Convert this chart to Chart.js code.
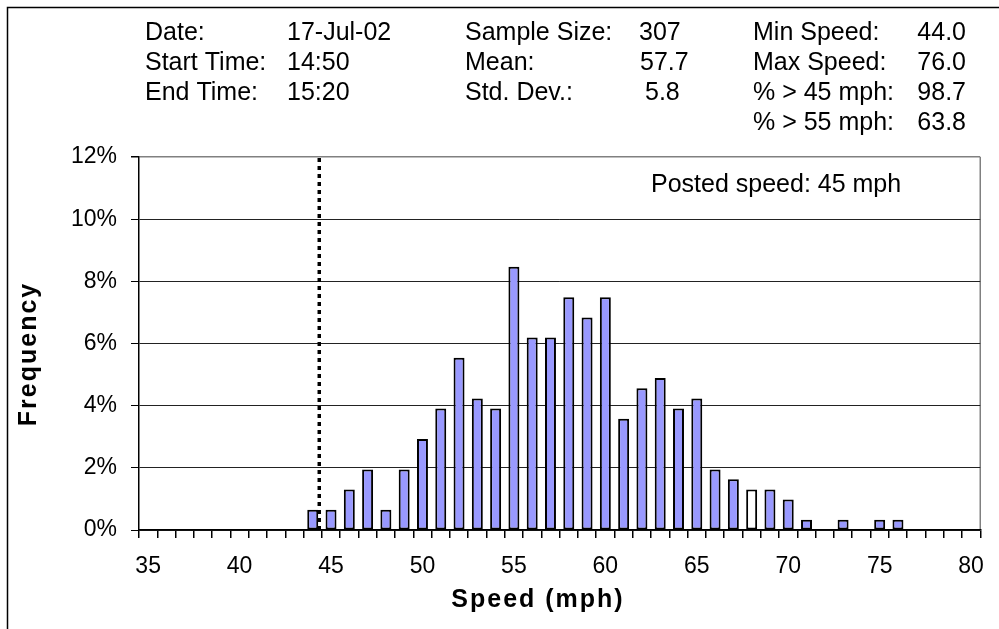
<!DOCTYPE html>
<html>
<head>
<meta charset="utf-8">
<title>Speed distribution</title>
<style>
  html, body { margin: 0; padding: 0; background: #fff; }
  #wrap { width: 999px; height: 629px; }
</style>
<script src="https://cdn.jsdelivr.net/npm/chart.js@4/dist/chart.umd.min.js"></script>
</head>
<body>
<div id="wrap"><canvas id="c" width="999" height="629"></canvas></div>
<script>
// Speed bins (mph) along the x axis
const speeds = [35, 36, 37, 38, 39, 40, 41, 42, 43, 44, 45, 46, 47, 48, 49, 50,
                51, 52, 53, 54, 55, 56, 57, 58, 59, 60, 61, 62, 63, 64, 65, 66,
                67, 68, 69, 70, 71, 72, 73, 74, 75, 76, 77, 78, 79, 80];

// Share of vehicles in each bin, in percent
const frequency = [0, 0, 0, 0, 0, 0, 0, 0, 0, 0.65, 0.65, 1.30, 1.95, 0.65, 1.95, 2.93,
                   3.91, 5.54, 4.23, 3.91, 8.47, 6.19, 6.19, 7.49, 6.84, 7.49, 3.58, 4.56, 4.89, 3.91, 4.23, 1.95,
                   1.63, 1.30, 1.30, 0.98, 0.33, 0, 0.33, 0, 0.33, 0.33, 0, 0, 0, 0];

// Bin drawn without fill
const hollowSpeeds = [68];

// Posted speed limit (mph)
const postedSpeed = 45;

// Survey details printed above the plot
const surveyLabels = ['Date:', 'Start Time:', 'End Time:'];
const surveyValues = ['17-Jul-02', '14:50', '15:20'];
const summaryLabels = ['Sample Size:', 'Mean:', 'Std. Dev.:'];
const summaryValues = ['307', '57.7', '5.8'];
const rangeLabels = ['Min Speed:', 'Max Speed:', '% > 45 mph:', '% > 55 mph:'];
const rangeValues = ['44.0', '76.0', '98.7', '63.8'];

const FONT = "'Liberation Sans', Arial, Helvetica, sans-serif";

const decor = {
  id: 'decor',
  beforeDraw(chart) {
    const { ctx, chartArea: a } = chart;
    ctx.save();
    ctx.fillStyle = '#fff';
    ctx.fillRect(0, 0, chart.width, chart.height);
    // outer frame
    ctx.strokeStyle = '#000';
    ctx.lineWidth = 1.5;
    ctx.strokeRect(7.5, 7.5, chart.width + 20, chart.height + 20);
    // right edge of the plot frame
    ctx.strokeStyle = '#808080';
    ctx.lineWidth = 1.5;
    ctx.beginPath();
    ctx.moveTo(a.right, a.top);
    ctx.lineTo(a.right, a.bottom);
    ctx.stroke();
    ctx.restore();
  },
  afterDraw(chart) {
    const { ctx } = chart;
    ctx.save();
    ctx.fillStyle = '#000';
    ctx.font = '25px ' + FONT;
    ctx.textBaseline = 'alphabetic';
    const rowY = [40, 70, 100, 130];

    ctx.textAlign = 'left';
    surveyLabels.forEach((t, i) => ctx.fillText(t, 145, rowY[i]));
    surveyValues.forEach((t, i) => ctx.fillText(t, 287, rowY[i]));
    summaryLabels.forEach((t, i) => ctx.fillText(t, 465, rowY[i]));
    const summaryX = [639, 640, 645];
    summaryValues.forEach((t, i) => ctx.fillText(t, summaryX[i], rowY[i]));
    rangeLabels.forEach((t, i) => ctx.fillText(t, 753, rowY[i]));
    ctx.textAlign = 'right';
    rangeValues.forEach((t, i) => ctx.fillText(t, 966, rowY[i]));

    // posted speed note
    ctx.textAlign = 'left';
    ctx.fillText('Posted speed: ' + postedSpeed + ' mph', 651, 192);

    // axis titles
    ctx.font = 'bold 25px ' + FONT;
    ctx.letterSpacing = '2px';
    ctx.textAlign = 'center';
    ctx.textBaseline = 'middle';
    ctx.fillText('Speed (mph)', 538, 600);
    ctx.translate(29, 354);
    ctx.rotate(-Math.PI / 2);
    ctx.fillText('Frequency', 0, 0);
    ctx.restore();
  }
};

new Chart(document.getElementById('c'), {
  data: {
    labels: speeds,
    datasets: [
      {
        type: 'line',
        xAxisID: 'x2',
        yAxisID: 'y',
        order: 0,
        data: [{ x: postedSpeed, y: 0 }, { x: postedSpeed, y: 12 }],
        borderColor: '#000',
        borderWidth: 3.5,
        borderDash: [4, 4],
        borderCapStyle: 'butt',
        pointRadius: 0,
        fill: false
      },
      {
        type: 'bar',
        xAxisID: 'x',
        yAxisID: 'y',
        order: 1,
        data: frequency,
        backgroundColor: speeds.map(s => hollowSpeeds.includes(s) ? '#ffffff' : '#9999ff'),
        borderColor: '#000',
        borderWidth: c => (c.raw > 0 ? 2 : 0),
        borderSkipped: false,
        grouped: false,
        barPercentage: 0.6,
        categoryPercentage: 1.0
      }
    ]
  },
  options: {
    responsive: false,
    maintainAspectRatio: false,
    animation: false,
    devicePixelRatio: 1,
    layout: { padding: { top: 157, right: 9, left: 0, bottom: 0 } },
    plugins: { legend: { display: false }, tooltip: { enabled: false } },
    scales: {
      x: {
        type: 'category',
        offset: true,
        ticks: {
          autoSkip: false,
          maxRotation: 0,
          padding: 15,
          color: '#000',
          font: { family: FONT, size: 23 },
          callback(v, i) { const s = speeds[i]; return s % 5 === 0 ? String(s) : ''; }
        },
        grid: { offset: true, drawOnChartArea: false, tickLength: 8, tickColor: '#000', lineWidth: 1.5 },
        border: { color: '#000', width: 1.5 },
        afterFit(s) { s.height = 99; }
      },
      x2: { type: 'linear', min: 30, max: 100, display: false },
      y: {
        min: 0,
        max: 12,
        ticks: {
          stepSize: 2,
          padding: 14,
          color: '#000',
          font: { family: FONT, size: 23 },
          callback: v => v + '%'
        },
        grid: {
          color: c => (c.tick && c.tick.value === 12) ? '#808080' : '#222',
          lineWidth: c => (c.tick && c.tick.value === 12) ? 1.5 : 1,
          tickLength: 8,
          tickColor: '#000'
        },
        border: { color: '#000', width: 1.5 },
        afterFit(s) { s.width = 139; }
      }
    }
  },
  plugins: [decor]
});
</script>
</body>
</html>
